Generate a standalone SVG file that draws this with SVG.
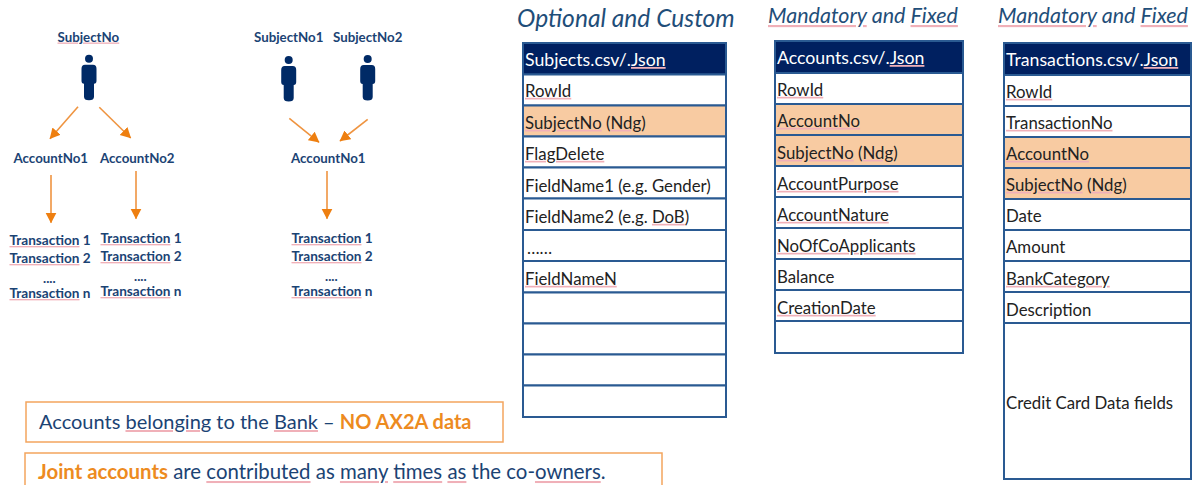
<svg xmlns="http://www.w3.org/2000/svg" width="1193" height="485" viewBox="0 0 1193 485">
<style>
text{font-family:Lato,"Open Sans","Liberation Sans",sans-serif}
.l{font-size:13.3px;font-weight:700;fill:#1b4374}
.tr{font-size:13.6px}
.h{font-size:21.5px;font-style:italic;fill:#1f4e79}
.t{font-size:16.8px;fill:#222;transform:translateY(.8px)}
.th{font-size:17.7px;fill:#fff}
.s{fill:#f0b0b8;text-decoration:underline}
.s tspan{fill:#1b4374}
.t .s tspan{fill:#222}
.th .s tspan{fill:#fff}
.h .s tspan{fill:#1f4e79}
.b{font-size:20px;fill:#1b4374}
.b .s tspan{fill:#1b4374}
.o{fill:#ed8b1f;font-weight:700}
.box{fill:none;stroke:#f3a55e;stroke-width:1.5}
.c{fill:#fff;stroke:#2a5a92;stroke-width:2}
.hl{fill:#f8cba2;stroke:#2a5a92;stroke-width:2}
.hd{fill:#002060;stroke:#2a5a92;stroke-width:2}
.a{stroke:#ef9440;stroke-width:1.6;fill:none;marker-end:url(#ah)}
.p{fill:#002a66}
</style>
<defs>
<marker id="ah" markerUnits="userSpaceOnUse" markerWidth="12" markerHeight="12" refX="10" refY="5.5" orient="auto"><path d="M0 0L10.500 5.500L0 11Z" fill="#ee7f10"/></marker>
<g id="person"><circle cx="0" cy="0" r="4"/><path d="M-4 6H4Q7.500 6 7.500 10V22Q7.500 25 5 25V38Q5 41.500 0 41.500Q-5 41.500 -5 38V25Q-7.500 25 -7.500 22V10Q-7.500 6 -4 6Z"/></g>
</defs>

<g id="connectors">
<path class="a" d="M78 106.700L50 138.700"/>
<path class="a" d="M99.300 107.300L130.700 138"/>
<path class="a" d="M51 175V222.700"/>
<path class="a" d="M136 171V218.700"/>
<path class="a" d="M289.300 118.300L319 142.300"/>
<path class="a" d="M367.700 119.300L340 141"/>
<path class="a" d="M327 171V218.700"/>
</g>

<g id="subject-no"><text class="l" x="57.500" y="41.500"><tspan class="s"><tspan>SubjectNo</tspan></tspan></text><use href="#person" class="p" x="89" y="58.700"/></g>
<g id="subject-no1"><text class="l" x="254" y="42">SubjectNo1</text><use href="#person" class="p" x="288.700" y="60"/></g>
<g id="subject-no2"><text class="l" x="333" y="42">SubjectNo2</text><use href="#person" class="p" x="367.700" y="59"/></g>
<g id="account-a1"><text class="l" x="13.500" y="163">AccountNo1</text></g>
<g id="account-a2"><text class="l" x="100" y="163">AccountNo2</text></g>
<g id="account-b1"><text class="l" x="291" y="163">AccountNo1</text></g>
<g id="transactions-a1"><text class="l tr" x="9.500" y="245"><tspan class="s"><tspan>Transaction</tspan></tspan> 1</text><text class="l tr" x="9.500" y="263"><tspan class="s"><tspan>Transaction</tspan></tspan> 2</text><text class="l" x="43" y="283">....</text><text class="l tr" x="9.500" y="298"><tspan class="s"><tspan>Transaction</tspan></tspan> n</text></g>
<g id="transactions-a2"><text class="l tr" x="100.500" y="243"><tspan class="s"><tspan>Transaction</tspan></tspan> 1</text><text class="l tr" x="100.500" y="261"><tspan class="s"><tspan>Transaction</tspan></tspan> 2</text><text class="l" x="134" y="281">....</text><text class="l tr" x="100.500" y="296"><tspan class="s"><tspan>Transaction</tspan></tspan> n</text></g>
<g id="transactions-b1"><text class="l tr" x="291.500" y="243"><tspan class="s"><tspan>Transaction</tspan></tspan> 1</text><text class="l tr" x="291.500" y="261"><tspan class="s"><tspan>Transaction</tspan></tspan> 2</text><text class="l" x="325" y="281">....</text><text class="l tr" x="291.500" y="296"><tspan class="s"><tspan>Transaction</tspan></tspan> n</text></g>

<g id="heading-subjects"><text class="h" x="517" y="27" style="font-size:24.600px">Optional and Custom</text></g>
<g id="heading-accounts"><text class="h" x="768" y="23"><tspan class="s"><tspan>Mandatory</tspan></tspan> and <tspan class="s"><tspan>Fixed</tspan></tspan></text></g>
<g id="heading-transactions"><text class="h" x="998" y="23"><tspan class="s"><tspan>Mandatory</tspan></tspan> and <tspan class="s"><tspan>Fixed</tspan></tspan></text></g>

<g id="table-subjects">
<rect class="hd" x="523" y="43" width="203" height="31.500"/>
<rect class="c" x="523" y="74.500" width="203" height="31"/>
<rect class="hl" x="523" y="105.500" width="203" height="31"/>
<rect class="c" x="523" y="136.500" width="203" height="31"/>
<rect class="c" x="523" y="167.500" width="203" height="31"/>
<rect class="c" x="523" y="198.500" width="203" height="31.500"/>
<rect class="c" x="523" y="230" width="203" height="31"/>
<rect class="c" x="523" y="261" width="203" height="31.500"/>
<rect class="c" x="523" y="292.500" width="203" height="31"/>
<rect class="c" x="523" y="323.500" width="203" height="31"/>
<rect class="c" x="523" y="354.500" width="203" height="31"/>
<rect class="c" x="523" y="385.500" width="203" height="31.500"/>
<text class="th" x="525" y="66">Subjects.csv/.<tspan class="s"><tspan>Json</tspan></tspan></text>
<text class="t" x="525" y="96"><tspan class="s"><tspan>RowId</tspan></tspan></text>
<text class="t" x="525" y="128"><tspan class="s"><tspan>SubjectNo</tspan></tspan> (<tspan class="s"><tspan>Ndg</tspan></tspan>)</text>
<text class="t" x="525" y="159"><tspan class="s"><tspan>FlagDelete</tspan></tspan></text>
<text class="t" x="525" y="191">FieldName1 (e.g. Gender)</text>
<text class="t" x="525" y="222">FieldName2 (e.g. <tspan class="s"><tspan>DoB</tspan></tspan>)</text>
<text class="t" x="527" y="253">……</text>
<text class="t" x="525" y="284"><tspan class="s"><tspan>FieldNameN</tspan></tspan></text>
</g>

<g id="table-accounts">
<rect class="hd" x="775" y="41" width="188" height="32"/>
<rect class="c" x="775" y="73" width="188" height="31"/>
<rect class="hl" x="775" y="104" width="188" height="31"/>
<rect class="hl" x="775" y="135" width="188" height="31"/>
<rect class="c" x="775" y="166" width="188" height="31"/>
<rect class="c" x="775" y="197" width="188" height="31"/>
<rect class="c" x="775" y="228" width="188" height="31"/>
<rect class="c" x="775" y="259" width="188" height="31"/>
<rect class="c" x="775" y="290" width="188" height="31"/>
<rect class="c" x="775" y="321" width="188" height="32"/>
<text class="th" x="777" y="64">Accounts.csv/.<tspan class="s"><tspan>Json</tspan></tspan></text>
<text class="t" x="777" y="95"><tspan class="s"><tspan>RowId</tspan></tspan></text>
<text class="t" x="777" y="126"><tspan class="s"><tspan>AccountNo</tspan></tspan></text>
<text class="t" x="777" y="158"><tspan class="s"><tspan>SubjectNo</tspan></tspan> (<tspan class="s"><tspan>Ndg</tspan></tspan>)</text>
<text class="t" x="777" y="189"><tspan class="s"><tspan>AccountPurpose</tspan></tspan></text>
<text class="t" x="777" y="220"><tspan class="s"><tspan>AccountNature</tspan></tspan></text>
<text class="t" x="777" y="251"><tspan class="s"><tspan>NoOfCoApplicants</tspan></tspan></text>
<text class="t" x="777" y="282">Balance</text>
<text class="t" x="777" y="313"><tspan class="s"><tspan>CreationDate</tspan></tspan></text>
</g>

<g id="table-transactions">
<rect class="hd" x="1004" y="43" width="187" height="32"/>
<rect class="c" x="1004" y="75" width="187" height="31"/>
<rect class="c" x="1004" y="106" width="187" height="31"/>
<rect class="hl" x="1004" y="137" width="187" height="31"/>
<rect class="hl" x="1004" y="168" width="187" height="31"/>
<rect class="c" x="1004" y="199" width="187" height="31"/>
<rect class="c" x="1004" y="230" width="187" height="31"/>
<rect class="c" x="1004" y="261" width="187" height="31"/>
<rect class="c" x="1004" y="292" width="187" height="31"/>
<rect class="c" x="1004" y="323" width="187" height="156"/>
<text class="th" x="1006" y="66">Transactions.csv/.<tspan class="s"><tspan>Json</tspan></tspan></text>
<text class="t" x="1006" y="97"><tspan class="s"><tspan>RowId</tspan></tspan></text>
<text class="t" x="1006" y="128"><tspan class="s"><tspan>TransactionNo</tspan></tspan></text>
<text class="t" x="1006" y="159"><tspan class="s"><tspan>AccountNo</tspan></tspan></text>
<text class="t" x="1006" y="190"><tspan class="s"><tspan>SubjectNo</tspan></tspan> (<tspan class="s"><tspan>Ndg</tspan></tspan>)</text>
<text class="t" x="1006" y="221">Date</text>
<text class="t" x="1006" y="252">Amount</text>
<text class="t" x="1006" y="284"><tspan class="s"><tspan>BankCategory</tspan></tspan></text>
<text class="t" x="1006" y="315">Description</text>
<text class="t" x="1006" y="408">Credit Card Data fields</text>
</g>

<g id="note-bank"><rect class="box" x="26" y="402" width="477" height="40"/><text class="b" x="39" y="429">Accounts <tspan class="s"><tspan>belonging</tspan></tspan> to the <tspan class="s"><tspan>Bank</tspan></tspan> – <tspan class="o">NO AX2A data</tspan></text></g>
<g id="note-joint"><path class="box" d="M25 486V453H662V486"/><text class="b" x="38" y="479" style="font-size:20.400px"><tspan class="o">Joint accounts</tspan> are <tspan class="s"><tspan>contributed</tspan></tspan> as <tspan class="s"><tspan>many</tspan></tspan> <tspan class="s"><tspan>times</tspan></tspan> <tspan class="s"><tspan>as</tspan></tspan> the co-<tspan class="s"><tspan>owners</tspan></tspan>.</text></g>
</svg>
